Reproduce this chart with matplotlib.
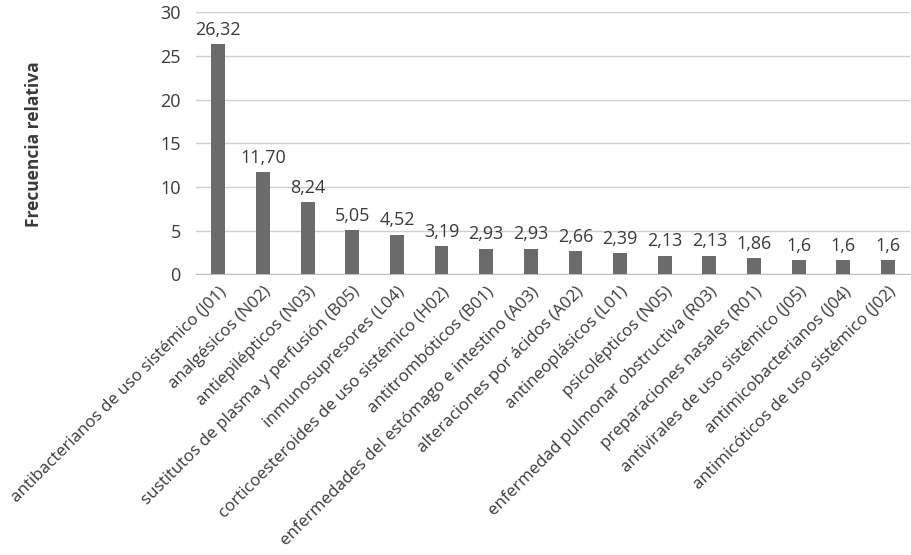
import matplotlib
matplotlib.use('Agg')
import matplotlib.pyplot as plt

categories = [
    'antibacterianos de uso sistémico (J01)',
    'analgésicos (N02)',
    'antiepilépticos (N03)',
    'sustitutos de plasma y perfusión (B05)',
    'inmunosupresores (L04)',
    'corticoesteroides de uso sistémico (H02)',
    'antitrombóticos (B01)',
    'enfermedades del estómago e intestino (A03)',
    'alteraciones por ácidos (A02)',
    'antineoplásicos (L01)',
    'psicolépticos (N05)',
    'enfermedad pulmonar obstructiva (R03)',
    'preparaciones nasales (R01)',
    'antivirales de uso sistémico (J05)',
    'antimicobacterianos (J04)',
    'antimicóticos de uso sistémico (J02)',
]
values = [26.32, 11.70, 8.24, 5.05, 4.52, 3.19, 2.93, 2.93, 2.66, 2.39, 2.13, 2.13, 1.86, 1.6, 1.6, 1.6]
value_labels = ['26,32', '11,70', '8,24', '5,05', '4,52', '3,19', '2,93', '2,93', '2,66',
                '2,39', '2,13', '2,13', '1,86', '1,6', '1,6', '1,6']
yticks = [0, 5, 10, 15, 20, 25, 30]

plt.rcParams['font.family'] = ['Open Sans', 'DejaVu Sans']
text_col = '#3a3a3a'

fig = plt.figure(figsize=(9.12, 5.55), dpi=100)
ax = fig.add_axes([0.215, 0.506, 0.783, 0.472])

x = range(len(categories))
ax.bar(x, values, width=0.31, color='#6b6b6b', zorder=3)
for xi, v, lab in zip(x, values, value_labels):
    ax.text(xi, v + 0.6, lab, ha='center', va='bottom', fontsize=13, color=text_col)

ax.set_xlim(-0.5, len(categories) - 0.5)
ax.set_ylim(0, 30)
ax.set_yticks(yticks)
ax.set_yticklabels([str(t) for t in yticks], fontsize=13, color=text_col)
ax.yaxis.grid(True, color='#d0d0d0', linewidth=1, zorder=0)
ax.set_xticks(list(x))
ax.set_xticklabels(categories, rotation=45, ha='right', rotation_mode='anchor',
                   fontsize=12.2, color=text_col)
ax.tick_params(axis='x', length=0, pad=7)
ax.tick_params(axis='y', length=0, pad=11)
for s in ['top', 'right', 'left']:
    ax.spines[s].set_visible(False)
ax.spines['bottom'].set_color('#bfbfbf')

fig.text(0.037, 0.74, 'Frecuencia relativa', rotation=90, ha='center', va='center',
         fontsize=12.5, fontweight='bold', color=text_col)

fig.savefig('out.png', dpi=100)
